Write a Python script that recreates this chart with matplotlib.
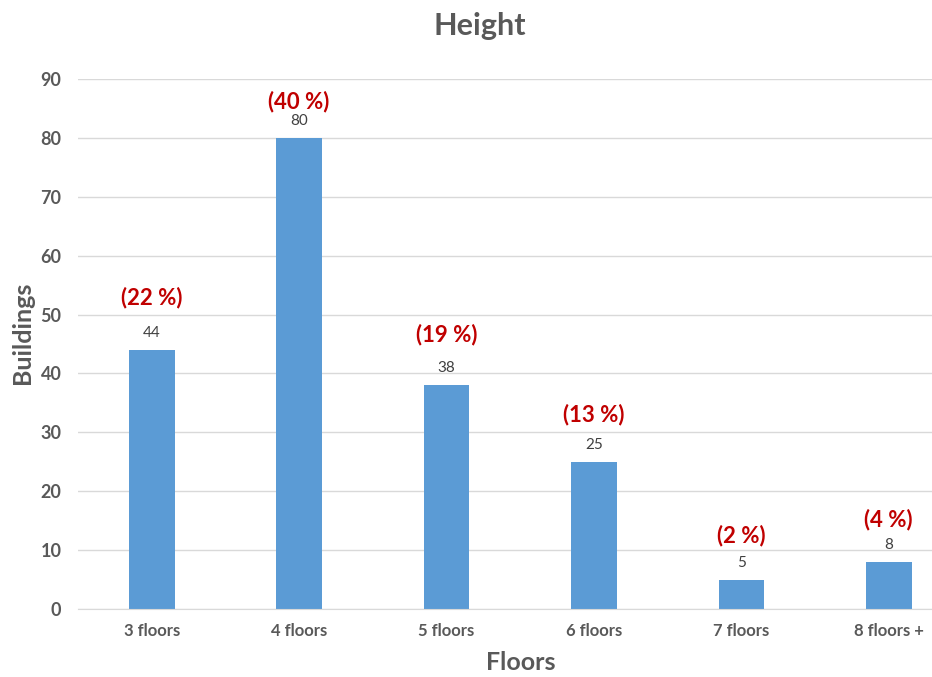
import matplotlib
matplotlib.use('Agg')
import matplotlib.pyplot as plt

categories = ['3 floors', '4 floors', '5 floors', '6 floors', '7 floors', '8 floors +']
buildings = [44, 80, 38, 25, 5, 8]
percents = ['(22 %)', '(40 %)', '(19 %)', '(13 %)', '(2 %)', '(4 %)']
yticks = [0, 10, 20, 30, 40, 50, 60, 70, 80, 90]

# how far each red label sits above its bar (pixels), they were placed by hand
pct_lift_px = [52, 36, 51, 47, 44, 42]

plt.rcParams['font.family'] = ['Lato', 'DejaVu Sans']

fig = plt.figure(figsize=(9.32, 6.77), dpi=100)
ax = fig.add_axes([0.0837, 0.1004, 0.949, 0.7829])

x = list(range(len(categories)))
ax.bar(x, buildings, width=0.31, color='#5B9BD5', zorder=3)
ax.set_xlim(-0.5, len(categories) - 0.5)
ax.set_ylim(0, 90)
ax.set_yticks(yticks)
ax.set_xticks(x)
ax.set_xticklabels(categories, fontsize=12, fontweight='bold', color='#595959')
ax.set_yticklabels([str(v) for v in yticks], fontsize=13, fontweight='bold', color='#595959')
ax.tick_params(length=0, pad=12)
ax.tick_params(axis='x', pad=10)

ax.grid(axis='y', color='#D9D9D9', linewidth=1, zorder=0)
for s in ['top', 'right', 'left']:
    ax.spines[s].set_visible(False)
ax.spines['bottom'].set_color('#D9D9D9')
ax.spines['bottom'].set_zorder(4)

for xi, v, p, lift in zip(x, buildings, percents, pct_lift_px):
    ax.annotate(str(v), (xi, v), xytext=(0, 17 * 0.72), textcoords='offset points',
                ha='center', va='center', fontsize=11, color='#404040')
    ax.annotate(p, (xi, v), xytext=(0, lift * 0.72), textcoords='offset points',
                ha='center', va='center', fontsize=16, fontweight='bold', color='#C00000')

fig.text(0.515, 0.962, 'Height', ha='center', va='center', fontsize=22,
         fontweight='bold', color='#595959')
fig.text(0.559, 0.021, 'Floors', ha='center', va='center', fontsize=18,
         fontweight='bold', color='#595959')
fig.text(0.024, 0.508, 'Buildings', ha='center', va='center', fontsize=18,
         fontweight='bold', color='#595959', rotation=90)

fig.savefig('out.png', dpi=100)
